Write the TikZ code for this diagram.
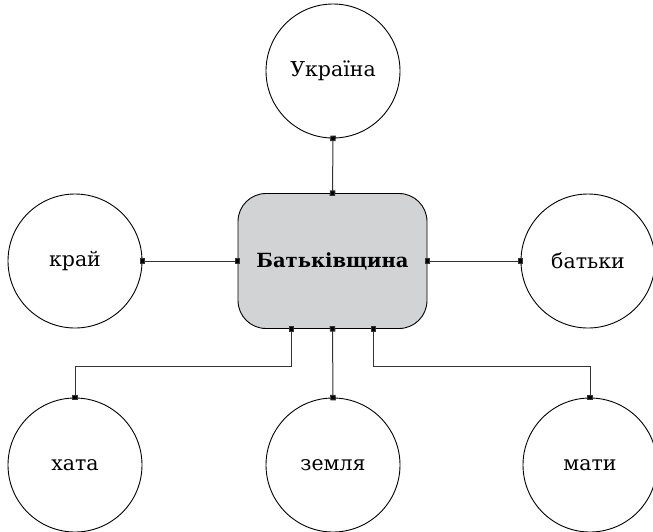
\documentclass[tikz,border=0pt]{standalone}
\usepackage{fontspec}
\setmainfont{DejaVu Serif}
\usetikzlibrary{arrows.meta,calc}
\definecolor{boxgray}{HTML}{D2D3D5}
\definecolor{linegray}{HTML}{333333}
\begin{document}
\begin{tikzpicture}[x=1pt,y=-1pt,
  leaf/.style={circle,draw=black,line width=0.9pt,minimum size=134pt,inner sep=0pt,
    font=\fontsize{20.5}{24}\selectfont},
  hub/.style={rectangle,rounded corners=28pt,draw=black,line width=0.9pt,fill=boxgray,
    minimum width=189pt,minimum height=135pt,inner sep=0pt,
    font=\fontsize{19.5}{23}\selectfont\bfseries},
  conn/.style={draw=linegray,line width=1pt,
    {Square[length=5.5pt,width=5.5pt,fill=black]}-{Square[length=5.5pt,width=5.5pt,fill=black]},
    shorten <=-2.75pt, shorten >=-2.75pt}]
\useasboundingbox (0,0) rectangle (653,531);
\node[hub] (box) at (332.5,261) {Батьківщина};
\node[leaf] (ukr) at (333,71) {Україна};
\node[leaf] (kray) at (75,261) {край};
\node[leaf] (bat) at (588,261) {батьки};
\node[leaf] (khata) at (75,465) {хата};
\node[leaf] (zem) at (333,465) {земля};
\node[leaf] (mati) at (590,465) {мати};
\draw[conn] (ukr.south) -- (box.north);
\draw[conn] (kray.east) -- (box.west);
\draw[conn] (box.east) -- (bat.west);
\draw[conn] (box.south) -- (zem.north);
\draw[conn] ([xshift=-41pt]box.south) |- ($(khata.north)+(0,-31)$) -- (khata.north);
\draw[conn] ([xshift=41pt]box.south) |- ($(mati.north)+(0,-31)$) -- (mati.north);
\end{tikzpicture}
\end{document}
